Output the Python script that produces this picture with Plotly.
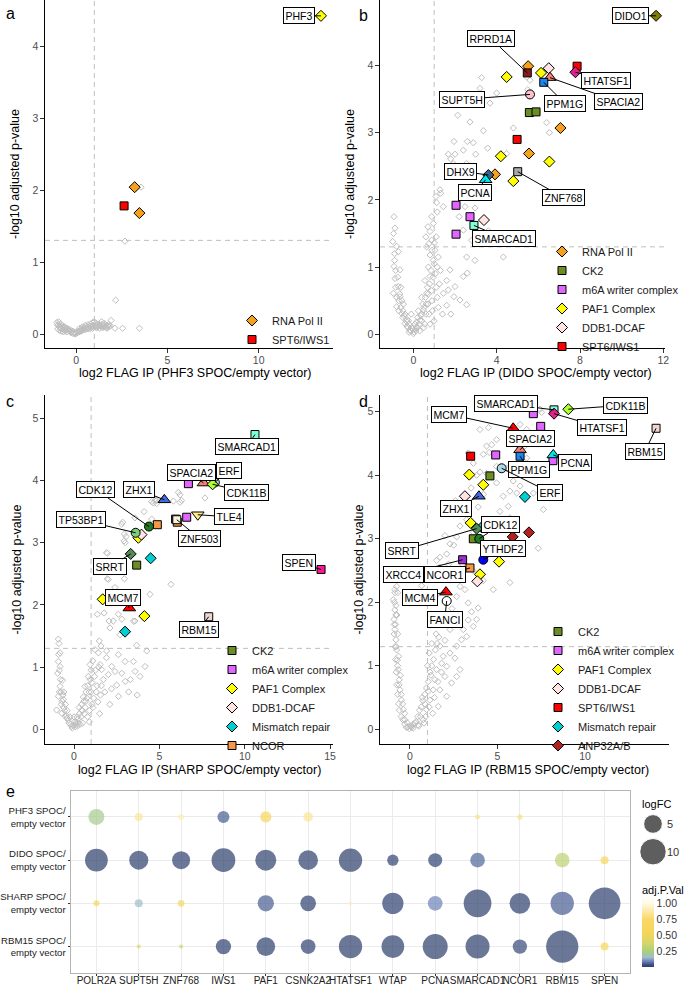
import plotly.graph_objects as go

W, H = 685, 985
FONT = "Liberation Sans, Arial, sans-serif"

# ---------------------------------------------------------------- data
# Panel a : PHF3 SPOC
a_bg_x = [-1.05,-1.0,-0.95,-0.9,-0.85,-0.8,-0.75,-0.7,-0.62,-0.55,-0.48,-0.4,-0.32,-0.25,-0.18,-0.1,
          -0.02,0.06,0.14,0.22,0.3,0.38,0.46,0.54,0.62,0.7,0.78,0.86,0.94,1.02,1.1,1.18,1.26,1.34,1.42,1.5,1.58,1.66,1.74,1.82,
          -1.0,-0.9,-0.8,-0.7,-0.6,-0.5,0.2,0.35,0.5,0.65,0.8,0.95,1.1,1.25,1.4,1.55,1.7,
          1.0,0.9,1.4,1.92,2.13,2.17,2.55,3.47,3.56,2.68]
a_bg_y = [0.16,0.12,0.17,0.1,0.14,0.08,0.12,0.07,0.1,0.06,0.08,0.05,0.06,0.03,0.04,0.02,
          0.02,0.03,0.04,0.05,0.07,0.06,0.09,0.08,0.1,0.09,0.11,0.1,0.12,0.11,0.13,0.1,0.12,0.11,0.13,0.1,0.12,0.09,0.11,0.1,
          0.07,0.05,0.04,0.03,0.04,0.03,0.08,0.1,0.12,0.13,0.14,0.12,0.15,0.14,0.13,0.15,0.12,
          0.17,0.16,0.17,0.19,0.08,0.47,0.08,0.08,2.04,1.29]
a_bg_x2 = [-0.98,-0.88,-0.78,-0.68,-0.58,-0.5,-0.42,-0.35,-0.28,-0.2,-0.12,-0.05,0.02,0.1,0.18,0.26,0.34,0.42,
           0.5,0.58,0.66,0.74,0.82,0.9,0.98,1.06,1.14,1.22,1.3,1.38,1.46,1.54,1.62,1.7,1.78,1.86]
a_bg_y2 = [0.13,0.09,0.1,0.09,0.07,0.08,0.05,0.04,0.02,0.01,0.01,0.0,0.01,0.02,0.03,0.04,0.05,0.07,
           0.06,0.07,0.08,0.07,0.09,0.08,0.09,0.1,0.09,0.11,0.08,0.1,0.09,0.11,0.1,0.08,0.13,0.12]
a_complex = {
    'RNA Pol II': ([3.21, 3.47], [2.04, 1.68]),
    'SPT6/IWS1': ([2.63], [1.78]),
}
a_single = {'PHF3': (13.41, 4.42)}

# Panel b : DIDO SPOC
b_bg = [(3.28,3.82),(3.2,3.66),(4.0,3.59),(3.68,3.44),(2.13,3.26),(2.72,3.16),(3.36,3.03),(1.95,2.87),(2.59,2.87),
        (2.88,2.85),(3.57,2.77),(1.68,2.68),(1.79,2.61),(2.99,2.68),(2.4,2.74),(2.0,2.68),(1.92,2.54),(2.56,2.54),
        (1.28,2.15),(1.31,2.1),(1.09,2.05),(1.12,1.96),(1.44,1.9),(1.15,1.82),(0.88,1.75),(0.96,1.65),(0.8,1.53),
        (0.88,1.4),(1.01,1.36),(0.64,1.3),(2.48,1.9),(2.96,1.88),(2.2,1.75),(2.4,1.55),(2.56,1.15),(2.96,1.1),
        (2.59,0.91),(2.4,0.86),(1.76,0.96),(2.0,0.71),(1.68,0.66),(2.24,0.51),(2.56,0.44),(1.44,0.61),(1.6,0.43),
        (1.95,0.56),(4.32,1.15),(3.6,1.54),(2.8,1.4),(3.36,2.04),(4.48,2.69),(4.8,3.07),(6.4,3.15),(6.53,3.0),
        (5.49,3.64),(5.6,3.78),(5.44,3.83),
        (-0.93,1.75),(-0.88,1.58),(-0.99,1.38),(-0.8,1.31),(-0.72,1.23),(-0.93,1.01),(-0.64,0.96),(-0.88,0.83),
        (-0.72,0.71),(-0.96,0.61),(-0.64,0.56),(-0.8,0.41),(-0.56,0.31),(-0.4,0.16),(-0.16,0.06),(0.0,0.01),
        (0.16,0.11),(0.32,0.21),(0.48,0.36),(0.64,0.61),(0.8,0.86),(0.96,1.1),(1.04,1.25),(0.8,1.18),(0.72,1.0),
        (0.56,0.8),(0.4,0.55),(0.24,0.35),(0.08,0.15),(-0.08,0.1),(-0.24,0.2),(-0.48,0.45),(-0.6,0.7),(-0.7,0.5),
        (-0.5,0.25),(-0.3,0.12),(0.6,0.3),(0.9,0.5),(1.1,0.7),(1.2,0.4),(1.0,0.2),(0.8,0.15),(0.5,0.1),(0.3,0.05),
        (1.3,0.95),(1.2,1.15),(0.92,0.35),(0.7,0.45),(-0.1,0.3),(-0.9,1.2),(-0.85,0.95),(0.6,1.45),(0.7,1.6),
        (1.1,1.45),(0.2,0.25),(0.4,0.2),(0.12,0.05),(-0.2,0.03),(0.55,0.15),(0.75,0.3),(1.4,0.3),(1.6,0.8),(1.8,0.3)]
b_bg2 = [(-0.95,1.5),(-0.9,1.1),(-0.85,0.7),(-0.8,0.55),(-0.75,0.85),(-0.7,0.35),(-0.65,0.6),(-0.6,0.4),(-0.55,0.5),
         (-0.5,0.35),(-0.45,0.28),(-0.4,0.3),(-0.35,0.2),(-0.3,0.22),(-0.25,0.1),(-0.2,0.15),(-0.12,0.05),(-0.05,0.08),
         (0.05,0.03),(0.1,0.08),(0.15,0.18),(0.2,0.1),(0.28,0.15),(0.35,0.28),(0.42,0.3),(0.45,0.45),(0.52,0.4),
         (0.58,0.55),(0.62,0.45),(0.68,0.7),(0.72,0.6),(0.78,0.75),(0.85,0.95),(0.88,0.65),(0.95,0.85),(1.0,1.05),
         (1.05,0.9),(1.15,1.0),(0.9,1.25),(0.75,1.35),(1.15,0.55),(1.25,0.75)]
b_complex = {
    'RNA Pol II': ([5.51, 7.06, 5.55, 3.92], [3.99, 3.07, 2.69, 2.38]),
    'CK2': ([5.57, 5.89], [3.30, 3.31]),
    'm6A writer complex': ([2.05, 2.72, 2.05], [1.92, 1.75, 1.49]),
    'PAF1 Complex': ([4.48, 6.13, 4.2, 6.53, 4.8], [3.83, 3.89, 2.65, 2.57, 2.28]),
    'DDB1-DCAF': ([6.5, 3.39], [3.96, 1.7]),
    'SPT6/IWS1': ([7.86, 4.98], [3.99, 2.9]),
}
b_single = {
    'DIDO1': (11.65, 4.74), 'RPRD1A': (5.47, 3.89), 'SPACIA2': (6.56, 3.82), 'PPM1G': (6.26, 3.75),
    'HTATSF1': (7.78, 3.9), 'SUPT5H': (5.6, 3.57), 'ZNF768': (5.01, 2.42), 'DHX9': (3.6, 2.37),
    'PCNA': (3.47, 2.3), 'SMARCAD1': (2.91, 1.62),
}

# Panel c : SHARP SPOC
c_bg = [(6.21,3.77),(5.82,3.67),(6.21,3.65),(7.67,3.72),(5.23,3.7),(4.84,3.68),(4.55,3.66),(4.84,3.63),(4.65,3.64),
        (4.1,3.5),(3.57,3.4),(4.55,3.38),(2.85,3.33),(3.05,3.1),(3.0,3.0),(1.95,2.83),(1.95,2.42),(2.95,2.42),
        (2.4,2.28),(5.68,2.33),(4.45,2.17),(1.37,1.85),(1.76,1.87),(2.05,1.74),(2.6,1.85),(2.8,1.77),(3.57,1.74),
        (2.11,1.63),(2.7,1.52),(3.67,1.35),(4.26,1.26),(1.48,1.42),(1.58,1.34),(1.91,1.26),(6.11,3.81),(6.3,3.68),
        (4.75,3.68),(2.93,3.03),(2.95,3.14),(2.79,3.3),(1.91,2.84),(2.01,2.41),(3.48,1.74),(2.3,1.74),
        (-0.92,1.45),(-0.88,1.38),(-0.82,1.23),(-0.92,1.09),(-0.82,1.01),(-0.96,0.9),(-0.68,0.79),(-0.82,0.69),
        (-0.92,0.53),(-0.63,0.48),(-1.02,0.31),(-0.72,0.26),(-0.33,0.15),(0.06,0.04),(0.25,0.17),(0.45,0.31),
        (0.55,0.52),(0.64,0.69),(0.84,0.85),(0.94,1.04),(1.23,1.28),(1.43,1.23),(1.53,1.04),(1.62,0.96),(1.72,0.8),
        (2.01,0.88),(2.21,1.01),(2.4,0.93),(2.5,0.71),(2.99,1.09),(3.48,1.09),(3.58,0.93),(3.87,0.85),(4.16,1.01),
        (3.0,0.77),(2.6,0.53),(2.2,0.65),(1.8,0.6),(1.4,0.44),(1.1,0.35),(0.8,0.2),(0.5,0.1),(0.2,0.05),(-0.2,0.08),
        (-0.5,0.2),(-0.75,0.4),(-0.85,0.6),(0.3,0.35),(0.7,0.45),(1.0,0.6),(1.2,0.85),(1.9,1.15),(2.6,1.2),(3.2,0.6),
        (3.7,0.55),(2.1,0.4),(1.5,0.25),(0.9,0.12),(0.1,0.1),(-0.1,0.02),(0.35,0.08),(0.6,0.25),(1.3,0.6),(1.6,0.7),
        (2.8,0.9),(3.3,0.8),(0.0,0.2),(-0.4,0.3),(-0.6,0.6)]
c_bg2 = [(-0.9,1.2),(-0.85,0.95),(-0.8,0.8),(-0.75,0.6),(-0.7,0.45),(-0.65,0.55),(-0.6,0.35),(-0.55,0.3),(-0.5,0.4),
         (-0.45,0.22),(-0.4,0.18),(-0.3,0.1),(-0.25,0.2),(-0.15,0.05),(-0.05,0.06),(0.05,0.12),(0.12,0.08),(0.18,0.2),
         (0.25,0.1),(0.32,0.25),(0.4,0.2),(0.45,0.4),(0.5,0.3),(0.58,0.45),(0.65,0.35),(0.7,0.6),(0.75,0.5),(0.8,0.7),
         (0.88,0.6),(0.95,0.8),(1.0,0.95),(1.05,0.75),(1.1,1.1),(1.15,0.5),(1.25,0.95),(1.35,0.7),(1.45,1.0),(1.55,0.55),
         (0.9,0.3),(1.05,0.4)]
c_complex = {
    'CK2': ([3.67], [2.64]),
    'm6A writer complex': ([6.7, 6.6], [3.95, 3.41]),
    'PAF1 Complex': ([3.77, 1.68, 4.12], [3.08, 2.09, 1.82]),
    'DDB1-DCAF': ([3.95], [3.13]),
    'Mismatch repair': ([4.49, 2.99], [2.75, 1.57]),
    'NCOR': ([4.88, 6.05], [3.29, 3.33]),
}
c_single = {
    'SMARCAD1': (10.6, 4.74), 'SPACIA2': (7.58, 3.96), 'ERF': (8.25, 3.97), 'CDK11B': (8.12, 3.94),
    'ZHX1': (5.29, 3.69), 'TLE4': (7.25, 3.45), 'XRCC4': (5.95, 3.38), 'ZNF503': (6.02, 3.37),
    'CDK12': (4.39, 3.26), 'TP53BP1': (3.61, 3.16), 'SRRT': (3.32, 2.82), 'SPEN': (14.47, 2.57),
    'MCM7': (3.24, 1.95), 'RBM15': (7.89, 1.81),
}

# Panel d : RBM15 SPOC
d_bg = [(7.43,5.04),(7.05,5.01),(7.52,4.99),(4.48,4.75),(4.0,4.72),(6.29,4.8),(6.67,4.72),(4.95,4.56),(4.67,4.48),
        (4.38,4.46),(6.19,4.46),(6.57,4.46),(4.19,4.33),(4.53,4.36),(3.33,4.35),(3.62,4.19),(3.81,4.0),(4.0,4.05),
        (4.38,4.03),(4.95,4.14),(5.52,4.11),(6.29,4.14),(6.67,4.27),(6.95,4.06),(4.95,3.88),(5.9,3.91),(6.29,3.83),
        (5.71,3.75),(5.33,3.67),(6.1,3.72),(7.05,3.72),(7.62,3.46),(7.33,2.85),(5.62,3.51),(5.14,3.43),(5.71,3.33),
        (4.95,3.3),(4.57,3.2),(4.38,3.26),(3.24,3.3),(2.86,3.2),(3.62,3.1),(2.67,3.03),(2.29,2.92),(2.1,2.76),
        (1.71,2.71),(1.52,2.66),(1.71,2.55),(1.9,2.45),(1.52,2.44),(5.71,2.31),(4.76,2.2),(4.19,2.34),(3.6,2.5),
        (3.0,3.55),(3.3,3.45),(3.5,3.8),(2.6,3.6),(2.4,3.4),(3.9,3.5),(4.2,3.7),(2.0,3.05),(2.5,2.9),(2.2,2.6),
        (2.86,2.25),(3.14,2.2),(2.67,2.09),(3.33,1.99),(3.9,1.91),(3.52,1.85),(3.33,1.72),(3.81,1.73),(3.62,1.62),
        (3.05,1.57),(2.95,1.41),(3.24,1.46),(2.67,1.31),(2.29,1.2),(1.9,1.15),(1.81,1.04),(1.52,0.94),(1.43,0.78),
        (1.33,0.62),(1.14,0.46),(0.95,0.31),(0.76,0.15),(0.48,0.07),(0.19,0.02),(-0.1,0.04),(-0.29,0.15),(-0.38,0.31),
        (-0.48,0.46),(-0.57,0.62),(-0.61,0.78),(-0.67,0.94),(-0.72,1.09),(-0.76,1.25),(-0.8,1.41),(-0.86,1.57),
        (-0.91,1.73),(-0.86,1.88),(-0.95,2.04),(-0.86,2.2),(-0.76,2.25),(-0.7,2.15),(-0.8,1.95),(-0.75,1.8),
        (-0.82,1.65),(-0.7,1.5),(-0.78,1.3),(-0.65,1.15),(-0.7,1.0),(-0.55,0.85),(-0.62,0.7),(-0.5,0.55),(-0.42,0.4),
        (-0.3,0.25),(-0.15,0.1),(0.05,0.05),(0.3,0.1),(0.6,0.2),(0.85,0.4),(1.71,1.67),(2.29,1.57),(1.71,1.31),
        (2.57,1.12),(2.1,0.99),(2.86,0.94),(2.0,0.83),(2.38,0.73),(1.71,0.62),(2.1,0.52),(1.62,0.36),(1.3,0.25),
        (2.67,0.83),(1.05,0.6),(1.2,0.85),(1.0,1.0),(1.1,1.2),(0.7,0.5),(1.5,1.5),(1.25,1.35),(2.0,1.4),(2.4,1.9),
        (2.0,2.0),(1.5,2.1),(1.3,1.8),(3.0,2.6),(2.7,2.45),(2.3,2.35),(0.67,2.26),(0.75,2.1)]
d_bg2 = [(-0.9,1.5),(-0.85,1.3),(-0.82,1.1),(-0.78,0.9),(-0.75,0.7),(-0.7,0.55),(-0.65,0.4),(-0.6,0.3),(-0.5,0.2),
         (-0.4,0.15),(-0.3,0.08),(-0.2,0.03),(-0.05,0.01),(0.1,0.03),(0.2,0.08),(0.35,0.12),(0.45,0.2),(0.55,0.3),
         (0.65,0.35),(0.75,0.45),(0.85,0.55),(0.95,0.65),(1.05,0.75),(1.15,0.9),(1.25,1.0),(1.35,1.1),(1.45,1.25),
         (1.55,1.35),(1.65,1.45),(0.9,0.2),(1.1,0.35),(1.4,0.5),(1.6,0.75),(1.8,0.9),(-0.88,2.0),(-0.8,1.8),
         (-0.9,1.65),(-0.85,2.15),(0.5,0.05),(0.8,0.1)]
d_complex = {
    'CK2': ([4.57, 3.62], [3.99, 3.0]),
    'm6A writer complex': ([7.05, 7.47, 4.9, 8.17], [4.97, 4.77, 4.32, 4.23]),
    'PAF1 Complex': ([3.39, 4.19, 3.47, 5.09, 4.0], [4.01, 3.85, 3.25, 2.64, 2.44]),
    'DDB1-DCAF': ([3.14, 3.85], [3.67, 2.33]),
    'SPT6/IWS1': ([3.47], [4.3]),
    'Mismatch repair': ([6.57, 4.1], [3.66, 3.18]),
    'ANP32A/B': ([5.87, 6.8], [3.03, 3.1]),
}
d_single = {
    'SMARCAD1': (8.23, 5.03), 'CDK11B': (9.05, 5.04), 'HTATSF1': (8.23, 4.97), 'MCM7': (5.9, 4.74),
    'RBM15': (14.06, 4.74), 'SPACIA2': (6.29, 4.4), 'PPM1G': (6.29, 4.3), 'PCNA': (8.19, 4.32),
    'ERF': (5.24, 4.11), 'ZHX1': (3.94, 3.67), 'SRRT': (3.81, 3.16), 'CDK12': (3.96, 3.0),
    'YTHDF2': (4.19, 2.67), 'XRCC4': (3.01, 2.67), 'NCOR1': (3.43, 2.54), 'MCM4': (2.06, 2.16),
    'FANCI': (2.1, 2.02),
}

# Panel e : dot plot
e_targets = ['POLR2A', 'SUPT5H', 'ZNF768', 'IWS1', 'PAF1', 'CSNK2A2', 'HTATSF1', 'WTAP', 'PCNA',
             'SMARCAD1', 'NCOR1', 'RBM15', 'SPEN']
e_baits = ['PHF3 SPOC/<br>empty vector', 'DIDO SPOC/<br>empty vector',
           'SHARP SPOC/<br>empty vector', 'RBM15 SPOC/<br>empty vector']
e_logfc_phf3 = [3.66, 0.92, 0.52, 2.06, 1.83, 1.35, None, None, None, 0.32, 0.40, None, 0.02]
e_logfc_dido = [7.37, 5.17, 4.64, 8.04, 6.31, 5.55, 7.77, 1.83, 2.80, 3.09, None, 3.09, 0.92]
e_logfc_sharp = [0.52, 0.92, 0.64, None, 3.80, 3.53, 0.23, 6.49, 3.09, 10.98, 6.13, 7.77, 14.38]
e_logfc_rbm15 = [None, 0.23, 0.23, 3.35, 5.00, 3.09, 7.77, 7.37, 8.94, 8.24, 2.93, 14.9, 0.92]
e_padj_phf3 = [0.22, 0.85, 0.90, 0.05, 0.65, 0.85, None, None, None, 0.80, 0.80, None, 0.98]
e_padj_dido = [0.0003, 0.001, 0.004, 0.0005, 0.001, 0.002, 0.0002, 0.01, 0.01, 0.06, None, 0.30, 0.65]
e_padj_sharp = [0.60, 0.15, 0.60, None, 0.05, 0.005, 0.90, 0.003, 0.09, 0.0001, 0.002, 0.05, 0.003]
e_padj_rbm15 = [None, 0.40, 0.35, 0.003, 0.001, 0.005, 0.0001, 0.0002, 0.0005, 0.0001, 0.02, 0.0002, 0.60]
size_legend_values = [5, 10]
colorbar_ticks = [0.25, 0.5, 0.75, 1.0]

# ---------------------------------------------------------------- styles
COMPLEX_STYLE = {
    'RNA Pol II': ('diamond', '#F7A01A'),
    'CK2': ('square', '#6B8E23'),
    'm6A writer complex': ('square', '#E066FF'),
    'PAF1 Complex': ('diamond', '#FFFF00'),
    'DDB1-DCAF': ('diamond', '#FFE4E1'),
    'SPT6/IWS1': ('square', '#FF0000'),
    'Mismatch repair': ('diamond', '#00CED1'),
    'NCOR': ('square', '#F79646'),
    'ANP32A/B': ('diamond', '#B22222'),
}
PROTEIN_STYLE = {
    'PHF3': ('diamond', '#FFFF00'), 'DIDO1': ('diamond', '#808000'), 'RPRD1A': ('square', '#8B1A1A'),
    'SPACIA2': ('triangle-up', '#FA8072'), 'PPM1G': ('square', '#1C86EE'), 'HTATSF1': ('diamond', '#E0218A'),
    'SUPT5H': ('circle', '#FFC0CB'), 'ZNF768': ('square', '#A9A9A9'), 'DHX9': ('diamond', '#36648B'),
    'PCNA': ('triangle-up', '#00E5EE'), 'SMARCAD1': ('square', '#7FFFD4'), 'ERF': ('circle', '#ADD8E6'),
    'CDK11B': ('diamond', '#ADFF2F'), 'ZHX1': ('triangle-up', '#4169E1'), 'TLE4': ('triangle-down', '#FFEC8B'),
    'XRCC4': ('square', '#9A32CD'), 'ZNF503': ('square', '#F5F5DC'), 'CDK12': ('circle', '#1E7B1E'),
    'TP53BP1': ('circle', '#7CCD7C'), 'SRRT': ('diamond', '#548B54'), 'SPEN': ('square', '#FF1493'),
    'MCM7': ('triangle-up', '#FF0000'), 'RBM15': ('square', '#EED5D2'), 'YTHDF2': ('circle', '#0000FF'),
    'NCOR1': ('square', '#F79646'), 'MCM4': ('triangle-up', '#FF0000'), 'FANCI': ('circle', '#FFFFFF'),
}
SYM_SIZE = {'diamond': 8.5, 'square': 8, 'triangle-up': 11, 'triangle-down': 11, 'circle': 9}

# label box offsets in pixels (box centre relative to point)
LABELS = {
    'a': {'PHF3': (-22, 0)},
    'b': {'DIDO1': (-26, 0), 'RPRD1A': (-36, -34), 'HTATSF1': (31, 8), 'SUPT5H': (-68, 5),
          'PPM1G': (21, 21), 'SPACIA2': (68, 24), 'DHX9': (-28, -4), 'PCNA': (-11, 13),
          'ZNF768': (46, 26), 'SMARCAD1': (30, 13)},
    'c': {'SMARCAD1': (-8, 12), 'SPACIA2': (-12, -11), 'ERF': (14, -12), 'CDK11B': (34, 8),
          'CDK12': (-53, -37), 'ZHX1': (-25, -10), 'TLE4': (31, 2), 'ZNF503': (23, 19),
          'TP53BP1': (-55, -13), 'SRRT': (-21, 13), 'MCM7': (-6, -11), 'SPEN': (-22, -7),
          'RBM15': (-10, 13)},
    'd': {'SMARCAD1': (-48, -6), 'CDK11B': (57, -4), 'MCM7': (-64, -14), 'HTATSF1': (48, 14),
          'RBM15': (-11, 23), 'SPACIA2': (10, -11), 'PCNA': (22, 8), 'PPM1G': (9, 13),
          'ERF': (48, 24), 'ZHX1': (-23, 12), 'CDK12': (21, -14), 'SRRT': (-75, 22),
          'YTHDF2': (20, -11), 'XRCC4': (-59, 15), 'NCOR1': (-25, 7), 'MCM4': (-26, 5),
          'FANCI': (-2, 18)},
}

def dx(l, r):
    return [l / W, r / W]

def dy(top, bottom):
    return [1 - bottom / H, 1 - top / H]

def unzip(pairs):
    return [q[0] for q in pairs], [q[1] for q in pairs]

PANELS = {
    'a': dict(ax='', xdom=(45, 333), ydom=(0, 348), xr=[-1.7, 14.07], yr=[-0.194, 4.64],
              xt=[0, 5, 10], yt=[0, 1, 2, 3, 4], bg=(a_bg_x + a_bg_x2, a_bg_y + a_bg_y2),
              cx=a_complex, single=a_single, legend='legend'),
    'b': dict(ax='2', xdom=(380, 665), ydom=(0, 348), xr=[-1.6, 12.08], yr=[-0.204, 4.975],
              xt=[0, 4, 8, 12], yt=[0, 1, 2, 3, 4], bg=unzip(b_bg + b_bg2),
              cx=b_complex, single=b_single, legend='legend2'),
    'c': dict(ax='3', xdom=(45, 333), ydom=(395, 744), xr=[-1.7, 15.17], yr=[-0.237, 5.376],
              xt=[0, 5, 10, 15], yt=[0, 1, 2, 3, 4, 5], bg=unzip(c_bg + c_bg2),
              cx=c_complex, single=c_single, legend='legend3'),
    'd': dict(ax='4', xdom=(380, 669), ydom=(395, 744), xr=[-1.71, 14.8], yr=[-0.232, 5.264],
              xt=[0, 5, 10], yt=[0, 1, 2, 3, 4, 5], bg=unzip(d_bg + d_bg2),
              cx=d_complex, single=d_single, legend='legend4'),
}

fig = go.Figure()
annotations = []
shapes = []
layout = {}

for key, p in PANELS.items():
    xa, ya = 'x' + p['ax'], 'y' + p['ax']
    fig.add_trace(go.Scatter(
        x=p['bg'][0], y=p['bg'][1], mode='markers', xaxis=xa, yaxis=ya, showlegend=False,
        marker=dict(symbol='diamond-open', size=4.8, color='#BEBEBE', line=dict(width=1, color='#BEBEBE')),
        hoverinfo='skip'))
    for name, (xs, ys) in p['cx'].items():
        sym, col = COMPLEX_STYLE[name]
        fig.add_trace(go.Scatter(
            x=xs, y=ys, mode='markers', xaxis=xa, yaxis=ya, name=name, legend=p['legend'],
            marker=dict(symbol=sym, size=SYM_SIZE[sym], color=col, line=dict(width=1, color='black'))))
    for name, (x, y) in p['single'].items():
        sym, col = PROTEIN_STYLE[name]
        fig.add_trace(go.Scatter(
            x=[x], y=[y], mode='markers', xaxis=xa, yaxis=ya, showlegend=False, name=name,
            marker=dict(symbol=sym, size=SYM_SIZE[sym], color=col, line=dict(width=1, color='black'))))
        if name in LABELS[key]:
            ox, oy = LABELS[key][name]
            annotations.append(dict(
                x=x, y=y, xref=xa, yref=ya, text=name, showarrow=True, arrowhead=0, arrowwidth=1,
                arrowcolor='black', ax=ox, ay=oy, bgcolor='white', bordercolor='black', borderwidth=1,
                borderpad=1.5, font=dict(family=FONT, size=10.5, color='black')))
    axstyle = dict(showline=True, linecolor='black', linewidth=1.3, ticks='outside', ticklen=3.5,
                   tickwidth=1, tickcolor='#333333', showgrid=False, zeroline=False, automargin=False,
                   tickfont=dict(family=FONT, size=10.5, color='#4D4D4D'))
    layout['xaxis' + p['ax']] = dict(domain=dx(*p['xdom']), range=p['xr'], tickvals=p['xt'],
                                     anchor=ya, ticklabelstandoff=-1, **axstyle)
    layout['yaxis' + p['ax']] = dict(domain=dy(*p['ydom']), range=p['yr'], tickvals=p['yt'],
                                     anchor=xa, **axstyle)
    shapes.append(dict(type='line', xref=xa, yref=ya + ' domain', x0=1, x1=1, y0=0, y1=1,
                       line=dict(color='#BEBEBE', width=1, dash='5px,4px'), layer='below'))
    shapes.append(dict(type='line', xref=xa + ' domain', yref=ya, x0=0, x1=1, y0=1.30103, y1=1.30103,
                       line=dict(color='#BEBEBE', width=1, dash='5px,4px'), layer='below'))

def ann_text(text, x, y, size=12.5, angle=0, xanchor='center'):
    annotations.append(dict(text=text, x=x / W, y=1 - y / H, xref='paper', yref='paper', showarrow=False,
                            textangle=angle, xanchor=xanchor, yanchor='middle',
                            font=dict(family=FONT, size=size, color='black')))

ann_text('log2 FLAG IP (PHF3 SPOC/empty vector)', 195, 372.5)
ann_text('log2 FLAG IP (DIDO SPOC/empty vector)', 535.5, 372.5)
ann_text('log2 FLAG IP (SHARP SPOC/empty vector)', 199.5, 770)
ann_text('log2 FLAG IP (RBM15 SPOC/empty vector)', 527.5, 770)
ann_text('-log10 adjusted p-value', 15, 174, angle=-90)
ann_text('-log10 adjusted p-value', 350, 174, angle=-90)
ann_text('-log10 adjusted p-value', 16, 569.5, angle=-90)
ann_text('-log10 adjusted p-value', 358, 569.5, angle=-90)
for letter, lx, ly in [('a', 4, 14), ('b', 356.5, 15), ('c', 3.5, 401.5), ('d', 356.5, 401.5), ('e', 3.5, 791.5)]:
    ann_text(letter, lx, ly, size=16, xanchor='left')
ann_text('logFC', 640, 803.5, size=11, xanchor='left')
ann_text('adj.P.Val', 640, 889.5, size=11, xanchor='left')

# ---------------------------------------------------------------- panel e
SIZEREF = 2.0 / 69.9
ex, ey, es, ec = [], [], [], []
for bait, lfc, pv in zip(e_baits, [e_logfc_phf3, e_logfc_dido, e_logfc_sharp, e_logfc_rbm15],
                         [e_padj_phf3, e_padj_dido, e_padj_sharp, e_padj_rbm15]):
    for t, s, c in zip(e_targets, lfc, pv):
        if s is None:
            continue
        ex.append(t); ey.append(bait); es.append(s); ec.append(c)

CMAX = 1.1   # colour bar drawn slightly past the top label, as in the reference
COLOR_STOPS = [(0.0, '#2C3D6B'), (0.04, '#3E5287'), (0.09, '#6C82B6'), (0.15, '#A2BCCB'),
               (0.24, '#A9CF7C'), (0.38, '#D7D66A'), (0.55, '#F5D659'), (0.75, '#F9D866'),
               (1.0, '#FFFAE6'), (1.1, '#FFFEF8')]
COLORSCALE = [[v / CMAX, c] for v, c in COLOR_STOPS]

fig.add_trace(go.Scatter(
    x=ex, y=ey, mode='markers', xaxis='x5', yaxis='y5', showlegend=False,
    marker=dict(size=es, sizemode='area', sizeref=SIZEREF, color=ec, colorscale=COLORSCALE,
                cmin=0, cmax=CMAX, line=dict(width=0),
                colorbar=dict(x=641.7 / W, xanchor='left', xpad=0, ypad=0, y=1 - 897 / H, yanchor='top',
                              len=70, lenmode='pixels', thickness=12, thicknessmode='pixels',
                              outlinewidth=0, ticks='', tickvals=colorbar_ticks,
                              ticktext=['%.2f' % t for t in colorbar_ticks],
                              tickfont=dict(family=FONT, size=10.5, color='#333333')))))

fig.add_trace(go.Scatter(
    x=[0, 0], y=[str(v) for v in size_legend_values], mode='markers', xaxis='x6', yaxis='y6',
    showlegend=False, hoverinfo='skip',
    marker=dict(size=size_legend_values, sizemode='area', sizeref=SIZEREF, color='#1A1A1A')))

e_ax = dict(showline=True, mirror=True, linecolor='#B3B3B3', linewidth=1, showgrid=True,
            gridcolor='#EBEBEB', gridwidth=1, ticks='outside', ticklen=2.5, tickcolor='#333333',
            zeroline=False, automargin=False)
layout['xaxis5'] = dict(domain=dx(71, 630), type='category', categoryorder='array', tickangle=0,
                        categoryarray=e_targets, range=[-0.6, 12.6], anchor='y5',
                        ticklabelstandoff=-4, tickfont=dict(family=FONT, size=10, color='#222222'), **e_ax)
layout['yaxis5'] = dict(domain=dy(791, 972.5), type='category', categoryorder='array',
                        categoryarray=e_baits[::-1], range=[-0.6, 3.6], anchor='x5',
                        tickfont=dict(family=FONT, size=9.6, color='#222222'), **e_ax)
layout['xaxis6'] = dict(domain=dx(640, 666), range=[-1, 1], visible=False, anchor='y6', automargin=False)
layout['yaxis6'] = dict(domain=dy(810.1, 865.6), type='category', categoryorder='array',
                        categoryarray=['10', '5'], range=[-0.5, 1.5], anchor='x6', side='right',
                        showgrid=False, showline=False, zeroline=False, ticks='', automargin=False,
                        tickfont=dict(family=FONT, size=11, color='#333333'))

def legend_cfg(left, top):
    return dict(x=left / W, y=1 - top / H, xanchor='left', yanchor='top', bgcolor='rgba(0,0,0,0)',
                borderwidth=0, font=dict(family=FONT, size=11, color='#1A1A1A'), traceorder='normal',
                itemclick=False, itemdoubleclick=False)

layout['legend'] = legend_cfg(232, 306)
layout['legend2'] = legend_cfg(542, 237)
layout['legend3'] = legend_cfg(212, 636)
layout['legend4'] = legend_cfg(538, 617)

fig.update_layout(template='none', width=W, height=H, margin=dict(l=0, r=0, t=0, b=0, autoexpand=False),
                  paper_bgcolor='white', plot_bgcolor='white', annotations=annotations, shapes=shapes,
                  font=dict(family=FONT), **layout)

fig.write_html('out.html', config={'displayModeBar': False},
               post_script="document.body.style.margin='0px';document.body.style.overflow='hidden';")
